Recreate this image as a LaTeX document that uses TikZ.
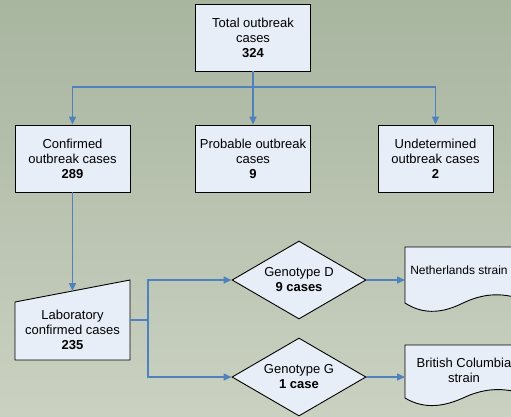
\documentclass[tikz,border=0pt]{standalone}
\usepackage{fontspec}
\setmainfont{Liberation Sans}
\usetikzlibrary{shapes.geometric,arrows.meta}
\definecolor{bgtop}{RGB}{168,181,159}
\definecolor{bgbot}{RGB}{202,209,193}
\definecolor{boxfill}{RGB}{232,238,248}
\definecolor{linkblue}{RGB}{79,129,189}
\tikzset{
  txt/.style={font=\fontsize{13}{15}\selectfont, align=center, text=black},
  procbox/.style={txt, draw=black, line width=0.9pt, fill=boxfill, minimum width=115pt, minimum height=67pt, inner sep=0pt},
  decision/.style={txt, draw=black, line width=0.9pt, fill=boxfill, shape=diamond, aspect=1.72, minimum width=134pt, minimum height=78pt, inner sep=0pt},
  shapeline/.style={draw=black, line width=0.9pt, fill=boxfill},
  link/.style={draw=linkblue, line width=1.4pt},
  arrowlink/.style={link, -{Triangle[length=8pt,width=7pt]}}
}
\begin{document}
\begin{tikzpicture}[x=1pt,y=-1pt]
\useasboundingbox (0,0) rectangle (511,416);
\clip (0,0) rectangle (511,416);
\shade[top color=bgtop, bottom color=bgbot] (0,0) rectangle (511,416);

% top level
\node[procbox] (total) at (253,37.5) {Total outbreak\\cases\\\textbf{324}};
\node[procbox] (conf) at (72.5,158.5) {Confirmed\\outbreak cases\\\textbf{289}};
\node[procbox] (prob) at (253,158.5) {Probable outbreak\\cases\\\textbf{9}};
\node[procbox] (undet) at (435.5,158.5) {Undetermined\\outbreak cases\\\textbf{2}};

% manual input shape
\path[shapeline] (15,302) -- (130,280) -- (130,360) -- (15,360) -- cycle;
\node[txt] (lab) at (72.5,330) {Laboratory\\confirmed cases\\\textbf{235}};
\coordinate (labtop) at (72.5,291);
\coordinate (labright) at (130,320);

% diamonds
\node[decision] (gd) at (299,280) {Genotype D\\\textbf{9 cases}};
\node[decision] (gg) at (299,377) {Genotype G\\\textbf{1 case}};

% documents
\path[shapeline] (405,247) -- (521,247) -- (521,299)
  .. controls (500,292) and (482,294) .. (463,303)
  .. controls (445,312) and (425,316) .. (405,303) -- cycle;
\node[txt, font=\fontsize{12}{15}\selectfont] (neth) at (459,270) {Netherlands strain};
\coordinate (nethin) at (405,280);

\path[shapeline] (405,345) -- (521,345) -- (521,393)
  .. controls (500,387) and (482,389) .. (463,398)
  .. controls (445,406) and (425,410) .. (405,398) -- cycle;
\node[txt] (bc) at (464,370) {British Columbia\\strain};
\coordinate (bcin) at (405,377);

% connectors
\coordinate (branch) at (253,87);
\draw[link] (total.south) -- (branch);
\draw[arrowlink] (branch) -| (conf.north);
\draw[arrowlink] (branch) -- (prob.north);
\draw[arrowlink] (branch) -| (undet.north);
\draw[arrowlink] (conf.south) -- (labtop);
\coordinate (split) at (148,320);
\draw[link] (labright) -- (split);
\draw[arrowlink] (split) |- (gd.west);
\draw[arrowlink] (split) |- (gg.west);
\draw[arrowlink] (gd.east) -- (nethin);
\draw[arrowlink] (gg.east) -- (bcin);
\end{tikzpicture}
\end{document}
